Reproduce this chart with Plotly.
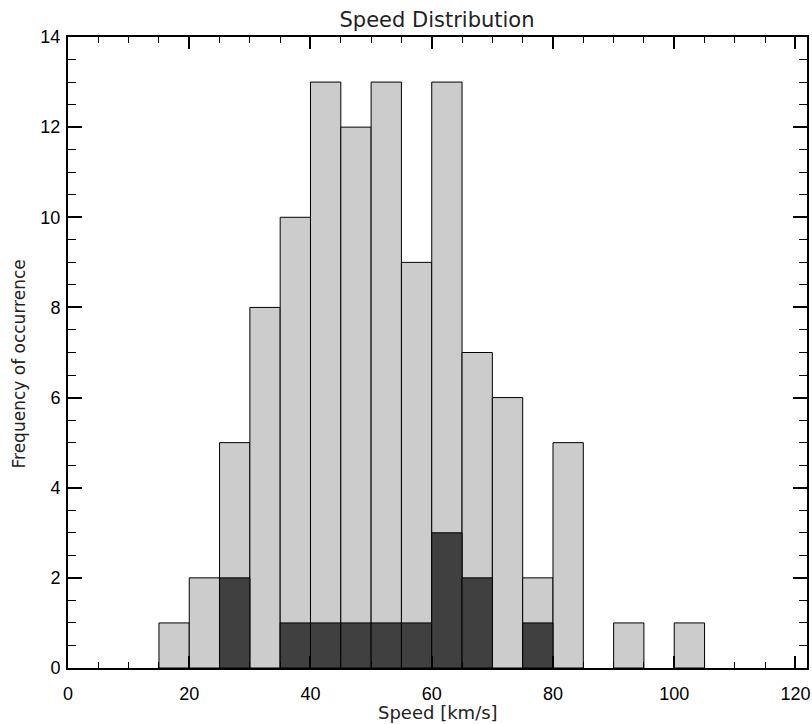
import plotly.graph_objects as go

bin_centers = [17.5, 22.5, 27.5, 32.5, 37.5, 42.5, 47.5, 52.5, 57.5, 62.5, 67.5, 72.5, 77.5, 82.5, 87.5, 92.5, 97.5, 102.5]
all_counts = [1, 2, 5, 8, 10, 13, 12, 13, 9, 13, 7, 6, 2, 5, 0, 1, 0, 1]
sub_counts = [0, 0, 2, 0, 1, 1, 1, 1, 1, 3, 2, 0, 1, 0, 0, 0, 0, 0]
x_ticks = [0, 20, 40, 60, 80, 100, 120]
y_ticks = [0, 2, 4, 6, 8, 10, 12, 14]
x_range = [0, 121.9]
y_range = [0, 14]

fig = go.Figure()
fig.add_trace(go.Bar(x=[c for c, v in zip(bin_centers, all_counts) if v > 0],
                     y=[v for v in all_counts if v > 0], width=5,
                     marker=dict(color="#cccccc", line=dict(color="black", width=1))))
fig.add_trace(go.Bar(x=[c for c, v in zip(bin_centers, sub_counts) if v > 0],
                     y=[v for v in sub_counts if v > 0], width=5,
                     marker=dict(color="#404040", line=dict(color="black", width=1))))
# empty trace so the mirrored (top/right) axes get drawn
fig.add_trace(go.Scatter(x=[None], y=[None], xaxis="x2", yaxis="y2", showlegend=False, hoverinfo="skip"))

tick_font = "Liberation Sans, Arial, sans-serif"
title_font = "DejaVu Sans, sans-serif"

W, H = 812, 724
L, R, T, B = 68, 5, 37, 56

common = dict(ticks="inside", tickwidth=1.5, tickcolor="black", showgrid=False, zeroline=False,
              automargin=False, showline=True, linecolor="black", linewidth=2)
minor_x = dict(dtick=5, tick0=0, ticks="inside", ticklen=6, tickwidth=1, tickcolor="black", showgrid=False)
minor_y = dict(dtick=0.5, tick0=0, ticks="inside", ticklen=8, tickwidth=1, tickcolor="black", showgrid=False)

fig.update_layout(
    width=W, height=H, barmode="overlay", showlegend=False,
    plot_bgcolor="white", paper_bgcolor="white",
    margin=dict(l=L, r=R, t=T, b=B),
    font=dict(family=tick_font, color="black"),
    title=dict(text="Speed Distribution", x=437 / W, xanchor="center",
               y=1 - 20 / H, yref="container", yanchor="middle",
               font=dict(size=21, family=title_font, color="#222")),
    xaxis=dict(range=x_range, tickvals=x_ticks, ticklen=12, tickfont=dict(size=18),
               ticklabelstandoff=8, ticklabeloverflow="allow", minor=minor_x, **common),
    xaxis2=dict(range=x_range, overlaying="x", side="top", anchor="y", tickvals=x_ticks, ticklen=12,
                showticklabels=False, minor=minor_x, **common),
    yaxis=dict(range=y_range, tickvals=y_ticks, ticklen=14, tickfont=dict(size=18),
               ticklabelstandoff=2, minor=minor_y, **common),
    yaxis2=dict(range=y_range, overlaying="y", side="right", anchor="x", tickvals=y_ticks, ticklen=14,
                showticklabels=False, minor=minor_y, **common),
    annotations=[
        dict(text="Speed [km/s]", x=0.5, xref="paper", y=0, yref="paper", yshift=-44,
             yanchor="middle", xanchor="center", showarrow=False,
             font=dict(size=18, family=title_font, color="#222")),
        dict(text="Frequency of occurrence", x=0, xref="paper", xshift=-50, y=0.5, yref="paper",
             yshift=-12, textangle=-90, xanchor="center", yanchor="middle", showarrow=False,
             font=dict(size=17, family=title_font, color="#222")),
    ],
)
fig.write_html("out.html", config={"displayModeBar": False},
               post_script="document.body.style.margin='0';")
